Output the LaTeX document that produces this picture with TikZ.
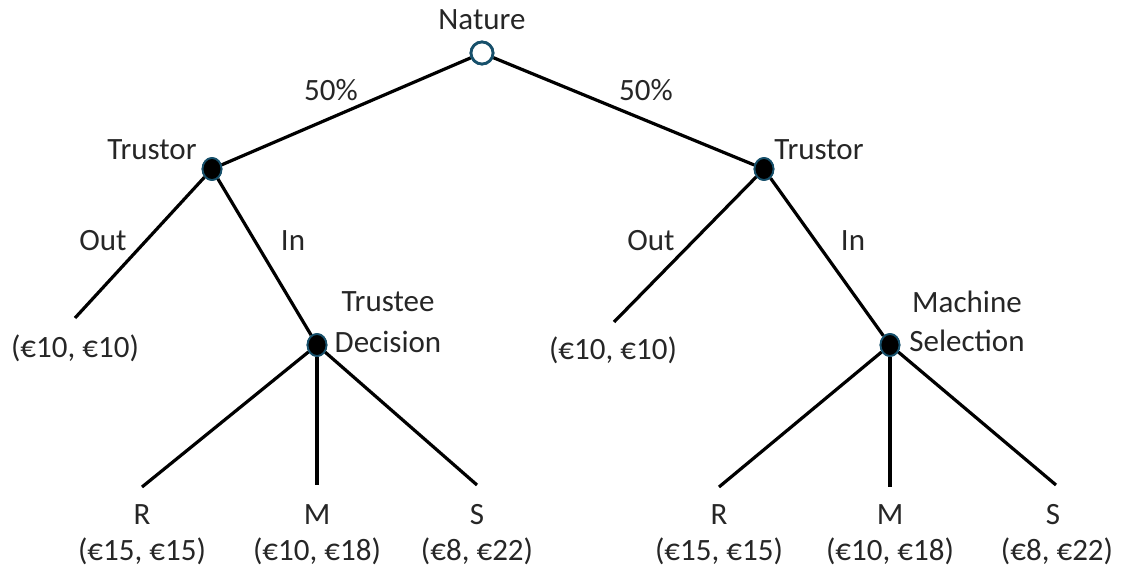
\documentclass[tikz,border=0pt]{standalone}
\usepackage{fontspec}
\setmainfont{Carlito}
\usetikzlibrary{shapes.geometric}
\definecolor{txt}{HTML}{262626}
\definecolor{rim}{HTML}{17506B}
\begin{document}
\begin{tikzpicture}[x=1pt,y=-1pt,
  chance/.style={circle,draw=rim,line width=2.8pt,fill=white,minimum size=22pt,inner sep=0pt},
  dec/.style={ellipse,draw=rim,line width=1.8pt,fill=black,minimum width=19pt,minimum height=22pt,inner sep=0pt},
  lbl/.style={text=txt,font=\fontsize{31}{34}\selectfont,inner sep=0pt},
  edge/.style={line width=3.2pt,black}]
\useasboundingbox (0,0) rectangle (1125,572);
% leaf coordinates
\coordinate (lo) at (75,318);
\coordinate (ro) at (614,322);
\coordinate (lr) at (142,487);
\coordinate (lm) at (317,485);
\coordinate (ls) at (477,485);
\coordinate (rr) at (719,487);
\coordinate (rm) at (890,487);
\coordinate (rs) at (1056,485);
% nodes
\node[chance] (nat) at (482,53) {};
\node[dec] (lt) at (212,169) {};
\node[dec] (rt) at (764,169) {};
\node[dec] (td) at (317,345) {};
\node[dec] (ms) at (890,345) {};
% edges
\draw[edge] (nat) -- (lt);
\draw[edge] (nat) -- (rt);
\draw[edge] (lt) -- (lo);
\draw[edge] (lt) -- (td);
\draw[edge] (rt) -- (ro);
\draw[edge] (rt) -- (ms);
\draw[edge] (td) -- (lr);
\draw[edge] (td) -- (lm);
\draw[edge] (td) -- (ls);
\draw[edge] (ms) -- (rr);
\draw[edge] (ms) -- (rm);
\draw[edge] (ms) -- (rs);
% redraw nodes on top
\node[chance] at (nat) {};
\node[dec] at (lt) {};
\node[dec] at (rt) {};
\node[dec] at (td) {};
\node[dec] at (ms) {};
% labels
\node[lbl] (natl) at (482,20) {Nature};
\node[lbl] (p1) at (331,90) {50\%};
\node[lbl] (p2) at (646,90) {50\%};
\node[lbl] (ltl) at (152,150) {Trustor};
\node[lbl] (rtl) at (819,150) {Trustor};
\node[lbl] (o1) at (103,241) {Out};
\node[lbl] (i1) at (293,241) {In};
\node[lbl] (o2) at (651,241) {Out};
\node[lbl] (i2) at (853,241) {In};
\node[lbl] (tdl1) at (388,302) {Trustee};
\node[lbl] (tdl2) at (388,342) {Decision};
\node[lbl] (msl1) at (967,302) {Machine};
\node[lbl] (msl2) at (967,341) {Selection};
\node[lbl] (lop) at (75,348) {(€10, €10)};
\node[lbl] (rop) at (613,350) {(€10, €10)};
\node[lbl] (lrl) at (142,515) {R};
\node[lbl] (lrp) at (142,551) {(€15, €15)};
\node[lbl] (lml) at (317,515) {M};
\node[lbl] (lmp) at (317,551) {(€10, €18)};
\node[lbl] (lsl) at (477,515) {S};
\node[lbl] (lsp) at (477,551) {(€8, €22)};
\node[lbl] (rrl) at (719,515) {R};
\node[lbl] (rrp) at (719,551) {(€15, €15)};
\node[lbl] (rml) at (890,515) {M};
\node[lbl] (rmp) at (890,551) {(€10, €18)};
\node[lbl] (rsl) at (1053,515) {S};
\node[lbl] (rsp) at (1057,551) {(€8, €22)};
\end{tikzpicture}
\end{document}
